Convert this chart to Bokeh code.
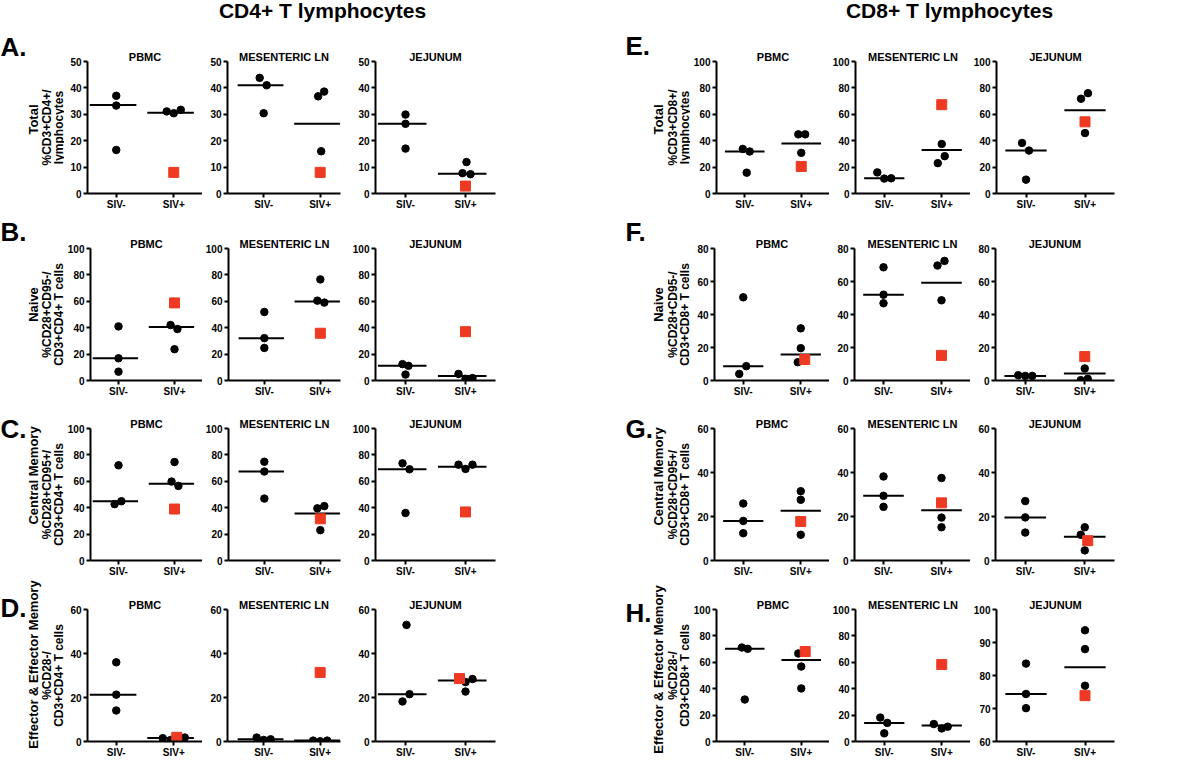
import math
from bokeh.plotting import figure
from bokeh.layouts import column, row
from bokeh.models import Range1d, FixedTicker, Label
from bokeh.embed import file_html
from bokeh.resources import INLINE

FONT = "Liberation Sans"
RED = "#EE3A22"

TISSUES = ["PBMC", "MESENTERIC LN", "JEJUNUM"]
GROUPS = ["SIV-", "SIV+"]

# ---------------- CD4+ (left) ----------------
A_NEG = [[37.0, 33.3, 16.5], [43.8, 41.0, 30.4], [29.9, 26.4, 17.0]]
A_POS = [[31.1, 30.4, 31.7], [36.8, 38.6, 16.0], [11.9, 7.7, 7.3]]
A_RED = [8.0, 8.0, 2.8]
A_MED = [[33.5, 30.6], [41.0, 26.4], [26.4, 7.5]]
A_TICKS = [0, 10, 20, 30, 40, 50]

B_NEG = [[41.0, 16.8, 6.7], [51.9, 32.1, 24.7], [12.4, 11.1, 4.5]]
B_POS = [[42.0, 39.0, 23.7], [76.6, 60.5, 59.0], [5.0, 1.3, 1.8]]
B_RED = [58.8, 35.8, 37.0]
B_MED = [[16.8, 40.5], [32.1, 59.8], [11.1, 3.4]]
B_TICKS = [0, 20, 40, 60, 80, 100]

C_NEG = [[72.1, 42.7, 44.9], [74.8, 67.4, 46.9], [73.6, 69.1, 36.0]]
C_POS = [[74.6, 59.8, 56.5], [39.5, 41.2, 23.0], [72.6, 69.4, 72.6]]
C_RED = [39.0, 31.6, 36.8]
C_MED = [[44.9, 58.2], [67.4, 35.6], [69.1, 71.0]]
C_TICKS = [0, 20, 40, 60, 80, 100]

D_NEG = [[36.0, 21.3, 14.1], [1.8, 0.7, 1.0], [53.0, 21.5, 18.2]]
D_POS = [[1.5, 0.7, 1.8], [0.4, 0.1, 0.4], [27.0, 28.4, 22.7]]
D_RED = [1.9, 31.4, 28.6]
D_MED = [[21.3, 1.6], [1.0, 0.4], [21.5, 27.7]]
D_TICKS = [0, 20, 40, 60]

# ---------------- CD8+ (right) ----------------
E_NEG = [[33.8, 31.8, 15.8], [16.0, 11.3, 11.5], [38.3, 32.5, 10.5]]
E_POS = [[44.8, 44.8, 30.8], [37.5, 28.3, 23.0], [71.8, 76.0, 45.8]]
E_RED = [20.5, 67.3, 54.3]
E_MED = [[31.8, 37.8], [11.5, 32.9], [32.5, 63.1]]
E_TICKS = [0, 20, 40, 60, 80, 100]

F_NEG = [[50.4, 8.7, 4.0], [68.6, 52.0, 46.8], [3.2, 2.8, 2.8]]
F_POS = [[31.6, 19.6, 11.1], [69.7, 72.5, 48.6], [7.3, 0.2, 1.0]]
F_RED = [12.7, 15.2, 14.5]
F_MED = [[8.7, 15.8], [52.0, 59.2], [2.8, 4.2]]
F_TICKS = [0, 20, 40, 60, 80]

G_NEG = [[25.9, 18.0, 12.4], [38.2, 29.4, 24.4], [27.0, 19.6, 12.7]]
G_POS = [[31.5, 27.6, 11.7], [37.5, 19.5, 15.1], [15.1, 11.7, 4.6]]
G_RED = [17.7, 26.2, 9.0]
G_MED = [[18.0, 22.6], [29.4, 22.8], [19.6, 10.8]]
G_TICKS = [0, 20, 40, 60]

H_NEG = [[71.2, 70.2, 31.8], [18.1, 14.1, 6.2], [83.6, 74.4, 70.1]]
H_POS = [[66.7, 56.8, 40.2], [13.2, 9.9, 11.2], [93.7, 88.0, 76.9]]
H_RED = [68.2, 58.3, 73.9]
H_MED = [[70.2, 61.8], [14.1, 12.2], [74.4, 82.5]]
H_TICKS = [[0, 20, 40, 60, 80, 100], [0, 20, 40, 60, 80, 100], [60, 70, 80, 90, 100]]

# horizontal scatter of the dots as seen in the picture (pixels)
A_JIT = dict(neg=[[0, 0, 0], [-4, 3, 0], [0, 0, 0]], pos=[[-7, 0, 7], [-2, 4, 1], [1, -3, 5]], red=[0, 0, 0])
B_JIT = dict(neg=[[0, 0, 0], [0, 0, 0], [-3, 3, 0]], pos=[[-4, 3, 0], [0, -3, 4], [-7, 0, 7]], red=[0, 0, 0])
C_JIT = dict(neg=[[0, -4, 3], [0, 0, 0], [-3, 4, 0]], pos=[[0, -3, 4], [-3, 4, 0], [-7, 0, 7]], red=[0, 0, 0])
D_JIT = dict(neg=[[0, 0, 0], [-7, 0, 7], [1, 4, -3]], pos=[[-11, -3, 11], [-7, 0, 7], [0, 7, 0]], red=[3, 0, -6])
E_JIT = dict(neg=[[-2, 5, 2], [-7, 0, 7], [-4, 3, 0]], pos=[[-3, 4, 0], [0, 3, -4], [-4, 3, 0]], red=[0, 0, 0])
F_JIT = dict(neg=[[0, 3, -4], [0, 0, 0], [-7, 0, 7]], pos=[[0, 0, -3], [-4, 3, 0], [0, -4, 3]], red=[4, 0, 0])
G_JIT = dict(neg=[[0, 0, 0], [0, 0, 0], [0, 0, 0]], pos=[[0, 0, 0], [0, 0, 0], [0, -4, 0]], red=[0, 0, 3])
H_JIT = dict(neg=[[-3, 3, 0], [-4, 3, 0], [0, 0, 0]], pos=[[-3, 0, 0], [-8, 0, 6], [0, 0, 0]], red=[4, 0, 0])

LEFT_ROWS = [
    ("A.", "Total", ["%CD3+CD4+/", "lymphocytes"], A_NEG, A_POS, A_RED, A_MED, A_TICKS, A_JIT),
    ("B.", "Naive", ["%CD28+CD95-/", "CD3+CD4+ T cells"], B_NEG, B_POS, B_RED, B_MED, B_TICKS, B_JIT),
    ("C.", "Central Memory", ["%CD28+CD95+/", "CD3+CD4+ T cells"], C_NEG, C_POS, C_RED, C_MED, C_TICKS, C_JIT),
    ("D.", "Effector & Effector Memory", ["%CD28-/", "CD3+CD4+ T cells"], D_NEG, D_POS, D_RED, D_MED, D_TICKS, D_JIT),
]
RIGHT_ROWS = [
    ("E.", "Total", ["%CD3+CD8+/", "lymphocytes"], E_NEG, E_POS, E_RED, E_MED, E_TICKS, E_JIT),
    ("F.", "Naive", ["%CD28+CD95-/", "CD3+CD8+ T cells"], F_NEG, F_POS, F_RED, F_MED, F_TICKS, F_JIT),
    ("G.", "Central Memory", ["%CD28+CD95+/", "CD3+CD8+ T cells"], G_NEG, G_POS, G_RED, G_MED, G_TICKS, G_JIT),
    ("H.", "Effector & Effector Memory", ["%CD28-/", "CD3+CD8+ T cells"], H_NEG, H_POS, H_RED, H_MED, H_TICKS, H_JIT),
]

# ---------------- geometry / style ----------------
HDR_H = 31
LAB_W = {"L": 64, "R": 66}
COL_W = {"L": [138, 142, 280], "R": [139, 141, 214]}
PAD_L = {"L": [23, 25, 31], "R": [24, 25, 25]}
PAD_R = {"L": [0, 4, 129], "R": [0, 0, 70]}
X_SHIFT = {"L": [0.0, -0.14, 0.0], "R": [0.0, 0.0, 0.0]}
TITLE_DX = {"L": [0, 9, 0], "R": [0, 0, 0]}
MED_X = {"L": (-0.46, 0.35), "R": (-0.35, 0.35)}
ROW_TOP = [30, 35, 28, 29]
FRAME_H = 132
PAD_B = 20
LETTER_X = {"L": 0, "R": 1}
LETTER_DY = {"L": [15, 17, 0, 2], "R": [16, 17, 0, -3]}
BIG_X = {"L": 33, "R": 34}
BIG_DY = {"L": [8, 10, 19, 11], "R": [8, 10, 18, 6]}
SMALL_X = {"L": [46, 58], "R": [48, 60]}


def txt(p, x, y, text, size, angle=0.0, align="center", baseline="middle"):
    p.add_layout(Label(x=x, y=y, x_units="screen", y_units="screen", text=text,
                       angle=angle, text_align=align, text_baseline=baseline,
                       text_font=FONT, text_font_style="bold", text_font_size=size,
                       text_color="black"))


def blank(width, height):
    f = figure(width=width, height=height, x_range=Range1d(0, 1), y_range=Range1d(0, 1),
               output_backend="svg", toolbar_location=None, min_border=0,
               x_axis_type=None, y_axis_type=None)
    f.frame_align = False
    f.outline_line_color = None
    f.grid.visible = False
    return f


def panel(half, col, ri, neg, pos, red, med, ticks, jit):
    W = COL_W[half][col]
    bl, br = PAD_L[half][col], PAD_R[half][col]
    top = ROW_TOP[ri]
    H = top + FRAME_H + PAD_B
    fw = W - bl - br
    unit = fw / 2.0
    s = X_SHIFT[half][col]
    tk = ticks[col] if isinstance(ticks[0], list) else ticks
    p = figure(width=W, height=H, x_range=Range1d(0.5 + s, 2.5 + s),
               y_range=Range1d(tk[0], tk[-1]), output_backend="svg",
               toolbar_location=None, min_border_left=bl, min_border_right=br,
               min_border_top=top, min_border_bottom=PAD_B, title=TISSUES[col])
    p.outline_line_color = None
    p.grid.visible = False
    p.background_fill_color = "white"
    p.border_fill_color = "white"
    p.title.align = "center"
    p.title.offset = TITLE_DX[half][col]
    p.title.text_font = FONT
    p.title.text_font_style = "bold"
    p.title.text_font_size = "11px"
    p.title.text_color = "black"
    p.title.standoff = -2

    xa = p.xaxis[0]
    xa.ticker = FixedTicker(ticks=[1, 2])
    xa.major_label_overrides = {1: GROUPS[0], 2: GROUPS[1]}
    ya = p.yaxis[0]
    ya.ticker = FixedTicker(ticks=tk)
    for ax in (xa, ya):
        ax.axis_line_width = 2
        ax.axis_line_color = "black"
        ax.major_tick_line_width = 2
        ax.major_tick_line_color = "black"
        ax.major_tick_out = 4
        ax.major_tick_in = 0
        ax.minor_tick_line_color = None
        ax.major_label_text_font = FONT
        ax.major_label_text_font_style = "bold"
        ax.major_label_text_color = "black"
    xa.major_label_text_font_size = "10px"
    xa.major_label_standoff = 1
    ya.major_label_text_font_size = "10px"
    ya.major_label_standoff = 2

    m0, m1 = MED_X[half]
    p.segment(x0=[1 + m0, 2 + m0], y0=med[col], x1=[1 + m1, 2 + m1], y1=med[col],
              line_width=2, line_color="black")
    xn = [1 + d / unit for d in jit["neg"][col]]
    xp = [2 + d / unit for d in jit["pos"][col]]
    p.scatter(xn, neg[col], size=7.5, fill_color="black", line_color="black")
    p.scatter(xp, pos[col], size=7.5, fill_color="black", line_color="black")
    p.scatter([2 + jit["red"][col] / unit], [red[col]], marker="square", size=10,
              fill_color=RED, line_color=RED)
    return p


def label_fig(half, ri, letter, big, small):
    H = ROW_TOP[ri] + FRAME_H + PAD_B
    f = blank(LAB_W[half], H)
    txt(f, LETTER_X[half], PAD_B + FRAME_H + LETTER_DY[half][ri], letter, "26px",
        align="left")
    txt(f, BIG_X[half], PAD_B + FRAME_H / 2.0 + BIG_DY[half][ri], big, "13px",
        angle=math.pi / 2)
    for xs, line in zip(SMALL_X[half], small):
        txt(f, xs, PAD_B + FRAME_H / 2.0, line, "12px", angle=math.pi / 2)
    return f


rows = []
hdr = blank(1184, HDR_H)
txt(hdr, 322, 21, "CD4+ T lymphocytes", "21px")
txt(hdr, 949, 21, "CD8+ T lymphocytes", "21px")
rows.append(hdr)

for ri in range(4):
    figs = []
    for half, spec in (("L", LEFT_ROWS[ri]), ("R", RIGHT_ROWS[ri])):
        letter, big, small, neg, pos, red, med, ticks, jit = spec
        figs.append(label_fig(half, ri, letter, big, small))
        for col in range(3):
            figs.append(panel(half, col, ri, neg, pos, red, med, ticks, jit))
    rows.append(row(*figs))

layout = column(*rows)
open("out.html", "w").write(file_html(layout, INLINE))
